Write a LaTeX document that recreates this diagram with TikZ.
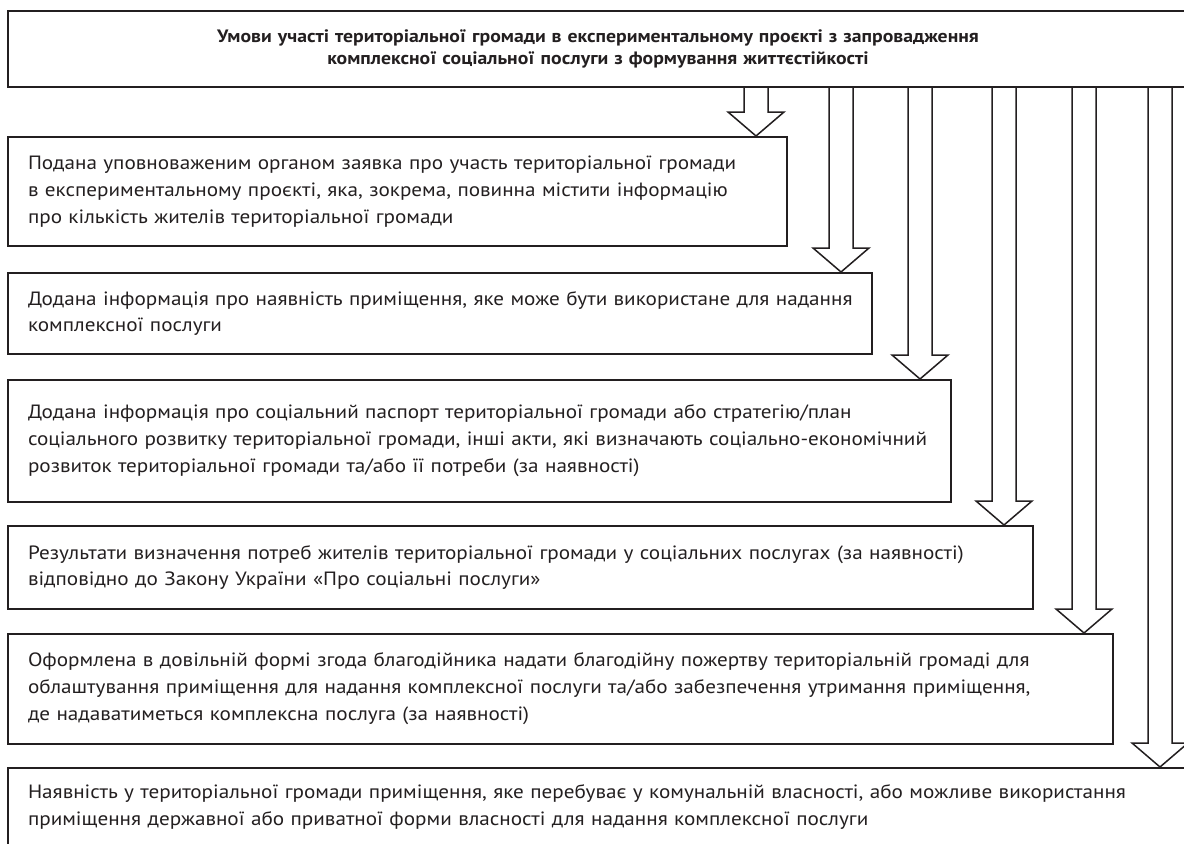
\documentclass[tikz,border=0pt]{standalone}
\usepackage{fontspec}
\setmainfont{PT Sans}[FakeStretch=1.1]
\usetikzlibrary{calc}

\definecolor{ink}{HTML}{231F20}

\tikzset{
  box/.style={draw=ink, line width=2bp, rectangle, anchor=north west,
    inner xsep=20bp, inner ysep=0bp, align=left, text=ink,
    font=\fontsize{19.3}{27}\selectfont},
  titlebox/.style={box, align=center, font=\bfseries\fontsize{18}{22}\selectfont},
  hollow/.style={draw=ink, line width=1.5bp, fill=white, line join=miter},
}

% порожниста стрілка від верхнього блоку до точки #1
\newcommand{\hollowarrow}[1]{%
  \draw[hollow] ($(#1 |- top.south)+(-12,0)$) -- ($(#1)+(-12,-24)$)
    -- ($(#1)+(-28,-24)$) -- (#1) -- ($(#1)+(28,-24)$)
    -- ($(#1)+(12,-24)$) -- ($(#1 |- top.south)+(12,0)$);}

\begin{document}
\begin{tikzpicture}[x=1bp, y=-1bp]

  % Межі малюнка
  \useasboundingbox (0,0) rectangle (1184,844);
  \clip (0,0) rectangle (1184,844);

  % Верхній блок
  \node[titlebox, minimum width=1180bp, minimum height=76bp, text width=1140bp] (top) at (7,10)
    {Умови участі територіальної громади в експериментальному проєкті з запровадження\\
     комплексної соціальної послуги з формування життєстійкості};

  % Умови
  \node[box, minimum width=779bp, minimum height=109bp, text width=739bp] (c1) at (7,136)
    {Подана уповноваженим органом заявка про участь територіальної громади\\
     в експериментальному проєкті, яка, зокрема, повинна містити інформацію\\
     про кількість жителів територіальної громади};
  \node[box, minimum width=864bp, minimum height=81bp, text width=824bp] (c2) at (7,272)
    {\mbox{Додана інформація про наявність приміщення, яке може бути використане для надання}\\
     комплексної послуги};
  \node[box, minimum width=943bp, minimum height=122bp, text width=903bp] (c3) at (7,379)
    {Додана інформація про соціальний паспорт територіальної громади або стратегію/план\\
     соціального розвитку територіальної громади, інші акти, які визначають соціально-економічний\\
     розвиток територіальної громади та/або її потреби (за наявності)};
  \node[box, minimum width=1025bp, minimum height=83bp, text width=985bp] (c4) at (7,525)
    {Результати визначення потреб жителів територіальної громади у соціальних послугах (за наявності)\\
     відповідно до Закону України «Про соціальні послуги»};
  \node[box, minimum width=1105bp, minimum height=110bp, text width=1065bp] (c5) at (7,633)
    {\mbox{Оформлена в довільній формі згода благодійника надати благодійну пожертву територіальній громаді для}\\
     облаштування приміщення для надання комплексної послуги та/або забезпечення утримання приміщення,\\
     де надаватиметься комплексна послуга (за наявності)};
  \node[box, minimum width=1200bp, minimum height=78bp, text width=1160bp] (c6) at (7,767)
    {Наявність у територіальної громади приміщення, яке перебуває у комунальній власності, або можливе використання\\
     приміщення державної або приватної форми власності для надання комплексної послуги};

  % Вістря стрілок
  \coordinate (t1) at ([xshift=-32bp]c1.north east);
  \coordinate (t2) at ([xshift=-32bp]c2.north east);
  \coordinate (t3) at ([xshift=-32bp]c3.north east);
  \coordinate (t4) at ([xshift=-30bp]c4.north east);
  \coordinate (t5) at ([xshift=-30bp]c5.north east);
  \coordinate (t6) at (1160,767);

  \foreach \t in {t1,t2,t3,t4,t5,t6}
    \hollowarrow{\t};

\end{tikzpicture}
\end{document}
